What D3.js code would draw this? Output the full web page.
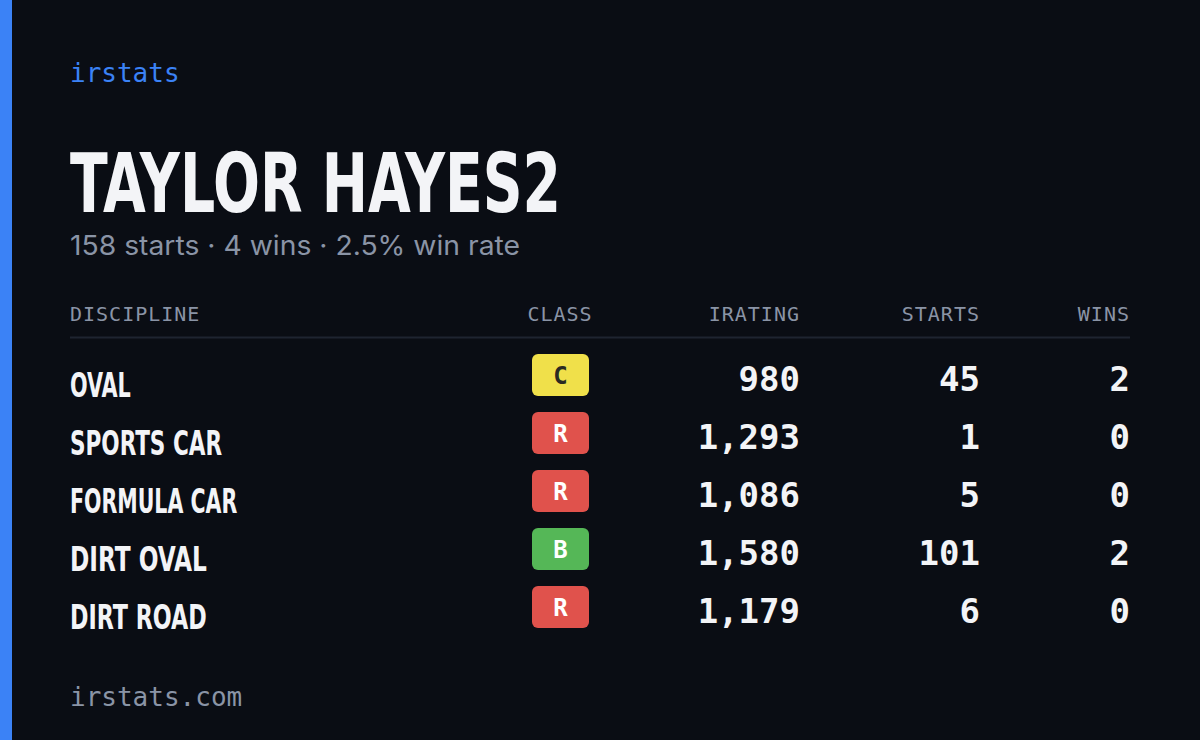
<!DOCTYPE html>
<html><head><meta charset="utf-8">
<script src="https://cdn.jsdelivr.net/npm/d3@7"></script>
<style>body{margin:0;background:#0a0d14;overflow:hidden}</style>
</head><body><svg id="canvas" width="1200" height="740"></svg>
<script>
// table data
let disciplines = ["OVAL", "SPORTS CAR", "FORMULA CAR", "DIRT OVAL", "DIRT ROAD"]
let classes = ["C", "R", "R", "B", "R"]
let iratings = [980, 1293, 1086, 1580, 1179]
let starts = [45, 1, 5, 101, 6]
let wins = [2, 0, 0, 2, 0]
let headers = ["DISCIPLINE", "CLASS", "IRATING", "STARTS", "WINS"]

let classColor = {C: "#f0e04a", R: "#e0524c", B: "#55b757"}
let classText = {C: "#2a2a22", R: "#ffffff", B: "#ffffff"}

let svg = d3.select("#canvas")
let mono = "'DejaVu Sans Mono', monospace"
let narrow = "'Liberation Sans Narrow', 'DejaVu Sans Condensed', sans-serif"

svg.append("rect").attr("width", 1200).attr("height", 740).attr("fill", "#0a0d14")
svg.append("rect").attr("width", 12).attr("height", 740).attr("fill", "#3b82f6")

svg.append("text").attr("x", 70).attr("y", 82).text("irstats")
    .attr("font-family", mono).attr("font-size", 26).attr("fill", "#3b82f6")

svg.append("text").attr("x", 70).attr("y", 212).text("TAYLOR HAYES2")
    .attr("font-family", narrow).attr("font-weight", "bold").attr("font-size", 82)
    .attr("fill", "#f3f4f7").attr("textLength", 491).attr("lengthAdjust", "spacingAndGlyphs")

let totalStarts = d3.sum(starts), totalWins = d3.sum(wins)
svg.append("text").attr("x", 70).attr("y", 255)
    .text(totalStarts + " starts · " + totalWins + " wins · " + (100 * totalWins / totalStarts).toFixed(1) + "% win rate")
    .attr("font-family", "Inter, sans-serif").attr("font-size", 27).attr("fill", "#8a94a6")
    .attr("textLength", 450).attr("lengthAdjust", "spacingAndGlyphs")

// columns: x anchor + alignment
let cols = [
    {x: 70, anchor: "start"},
    {x: 560, anchor: "middle"},
    {x: 800, anchor: "end"},
    {x: 980, anchor: "end"},
    {x: 1130, anchor: "end"}
]

svg.selectAll(".hdr").data(headers).enter().append("text")
    .attr("x", (d, i) => cols[i].x).attr("y", 321).attr("text-anchor", (d, i) => cols[i].anchor)
    .attr("font-family", mono).attr("font-size", 20).attr("letter-spacing", 1).attr("fill", "#8a94a6")
    .text(d => d)

svg.append("line").attr("x1", 70).attr("x2", 1130).attr("y1", 337.5).attr("y2", 337.5)
    .attr("stroke", "#1e2430").attr("stroke-width", 2)

let y = d3.scaleBand().domain(d3.range(disciplines.length)).range([349, 639])

let row = svg.selectAll(".row").data(disciplines).enter().append("g")
    .attr("transform", (d, i) => "translate(0," + (y(i) + y.bandwidth() / 2) + ")")

row.append("text").attr("x", 70).attr("y", 19).text(d => d)
    .attr("font-family", narrow).attr("font-weight", "bold").attr("font-size", 34).attr("fill", "#f3f4f7")
    .attr("textLength", (d) => d.length * 15.2).attr("lengthAdjust", "spacingAndGlyphs")

row.append("rect").attr("x", 532).attr("y", -24).attr("width", 57).attr("height", 42).attr("rx", 6)
    .attr("fill", (d, i) => classColor[classes[i]])
row.append("text").attr("x", 560.5).attr("y", 6).attr("text-anchor", "middle")
    .attr("font-family", mono).attr("font-weight", "bold").attr("font-size", 24)
    .attr("fill", (d, i) => classText[classes[i]]).text((d, i) => classes[i])

let fmt = d3.format(",")
let numCols = [iratings, starts, wins]
numCols.forEach((arr, c) => {
    row.append("text").attr("x", cols[c + 2].x).attr("y", 13).attr("text-anchor", "end")
        .attr("font-family", mono).attr("font-weight", "bold").attr("font-size", 34).attr("fill", "#f3f4f7")
        .text((d, i) => fmt(arr[i]))
})

svg.append("text").attr("x", 70).attr("y", 706).text("irstats.com")
    .attr("font-family", mono).attr("font-size", 26).attr("fill", "#8a94a6")
</script></body></html>
